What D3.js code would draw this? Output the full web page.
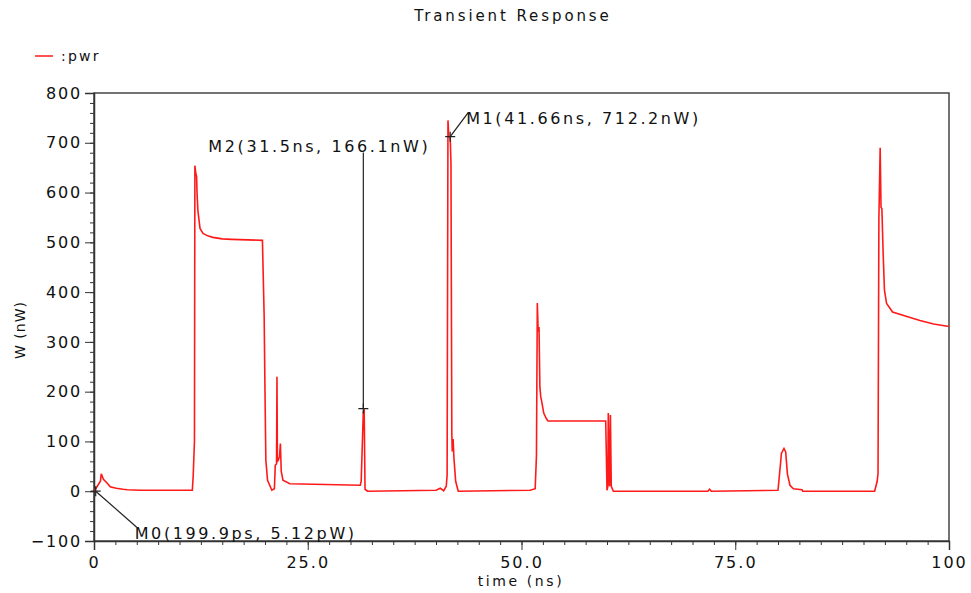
<!DOCTYPE html>
<html>
<head>
<meta charset="utf-8">
<script src="https://cdn.jsdelivr.net/npm/d3@7"></script>
<style>
  body { margin: 0; background: #fff; }
  text { font-family: "DejaVu Sans", sans-serif; fill: #111; }
</style>
</head>
<body>
<div id="chart"></div>
<script>
// time in ns, power in nW
const timeNs = [0, 0.2, 0.75, 0.85, 1.1, 1.5, 1.9, 2.6, 3.4, 3.9, 5.4, 11.5, 11.6, 11.75, 11.8, 11.9, 12.0, 12.05, 12.15, 12.4, 12.75, 13.3, 13.9, 15.0, 16.1, 19.7, 19.9, 20.0, 20.1, 20.3, 20.8, 21.1, 21.2, 21.35, 21.4, 21.45, 21.55, 21.7, 21.8, 21.9, 22.1, 22.9, 31.15, 31.25, 31.5, 31.6, 31.7, 32.0, 40.0, 40.5, 40.9, 41.2, 41.3, 41.4, 41.5, 41.66, 41.75, 41.85, 41.9, 42.0, 42.1, 42.3, 42.6, 51.0, 51.6, 51.75, 51.85, 51.95, 52.05, 52.15, 52.25, 52.4, 52.6, 52.9, 53.1, 59.85, 60.0, 60.1, 60.15, 60.3, 60.4, 60.5, 60.75, 71.8, 72.0, 72.2, 80.0, 80.15, 80.4, 80.7, 80.9, 81.1, 81.4, 81.8, 82.8, 82.9, 91.3, 91.6, 91.7, 91.8, 91.95, 92.05, 92.15, 92.3, 92.45, 92.7, 93.4, 94.7, 96.6, 98.2, 100];
const powerNw = [0, 5, 20, 35, 24, 17, 9, 6, 4, 3, 2, 2, 30, 100, 654, 640, 632, 600, 564, 528, 518, 513, 510, 507, 506, 504, 353, 200, 62, 22, 2, 5, 52, 55, 230, 60, 62, 70, 96, 40, 22, 15, 12, 20, 160, 162, 4, 0, 2, 6, 1, 10, 32, 745, 712, 712, 659, 116, 80, 105, 66, 20, 0, 2, 5, 72, 378, 320, 330, 209, 190, 177, 157, 146, 141, 141, 2, 10, 157, 10, 153, 10, 0, 0, 4, 0, 2, 29, 76, 86, 79, 35, 12, 5, 3, 0, 0, 20, 36, 548, 690, 570, 568, 477, 404, 377, 360, 353, 343, 336, 331];

const yTicks = [-100, 0, 100, 200, 300, 400, 500, 600, 700, 800];
const xTicks = [0, 25, 50, 75, 100];
const xTickLabels = ["0", "25.0", "50.0", "75.0", "100"];

// markers: name, x (ns), y (nW), label
const markerNames = ["M0", "M1", "M2"];
const markerX = [0.1999, 41.66, 31.5];
const markerY = [0.00512, 712.2, 166.1];
const markerLabels = ["M0(199.9ps, 5.12pW)", "M1(41.66ns, 712.2nW)", "M2(31.5ns, 166.1nW)"];

const width = 971, height = 593;
const margin = {top: 93, right: 22, bottom: 52, left: 94};
const innerW = width - margin.left - margin.right;
const innerH = height - margin.top - margin.bottom;

const svg = d3.select("#chart").append("svg")
  .attr("width", width)
  .attr("height", height);

const g = svg.append("g")
  .attr("transform", `translate(${margin.left},${margin.top})`);

const x = d3.scaleLinear().domain([0, 100]).range([0, innerW]);
const y = d3.scaleLinear().domain([-100, 800]).range([innerH, 0]);

// title
svg.append("text")
  .attr("x", 513).attr("y", 21)
  .attr("text-anchor", "middle")
  .style("font-size", "15px")
  .style("letter-spacing", "2.9px")
  .text("Transient Response");

// legend
svg.append("line")
  .attr("x1", 35).attr("x2", 53)
  .attr("y1", 56).attr("y2", 56)
  .attr("stroke", "#ff1a1a").attr("stroke-width", 1.5);
svg.append("text")
  .attr("x", 61).attr("y", 61)
  .style("font-size", "14px")
  .style("letter-spacing", "2.2px")
  .text(":pwr");

// frame
g.append("rect")
  .attr("width", innerW).attr("height", innerH)
  .attr("fill", "none")
  .attr("stroke", "#444").attr("stroke-width", 1.5);

// y axis
const yMinor = d3.range(-100, 801, 20);
g.append("g").attr("class", "y-minor")
  .call(d3.axisLeft(y).tickValues(yMinor).tickSize(4).tickFormat(""))
  .call(s => s.select(".domain").remove())
  .selectAll("line").attr("stroke", "#333");

const yAxis = g.append("g").attr("class", "y-axis")
  .call(d3.axisLeft(y).tickValues(yTicks).tickSize(9).tickPadding(3));
yAxis.select(".domain").attr("stroke", "#333").attr("stroke-width", 1.5);
yAxis.selectAll("line").attr("stroke", "#333");
yAxis.selectAll("text")
  .style("font-size", "16px")
  .style("letter-spacing", "1.8px")
  .style("font-family", "DejaVu Sans")
  .attr("fill", "#111")
  .text(d => d < 0 ? "\u2212" + Math.abs(d) : d);

// x axis
const xMinor = d3.range(0, 100.1, 2.5);
g.append("g").attr("class", "x-minor")
  .attr("transform", `translate(0,${innerH})`)
  .call(d3.axisBottom(x).tickValues(xMinor).tickSize(4).tickFormat(""))
  .call(s => s.select(".domain").remove())
  .selectAll("line").attr("stroke", "#333");

const xAxis = g.append("g").attr("class", "x-axis")
  .attr("transform", `translate(0,${innerH})`)
  .call(d3.axisBottom(x).tickValues(xTicks).tickSize(9).tickPadding(7)
    .tickFormat((d, i) => xTickLabels[i]));
xAxis.select(".domain").attr("stroke", "#333").attr("stroke-width", 1.5);
xAxis.selectAll("line").attr("stroke", "#333");
xAxis.selectAll("text")
  .style("font-size", "16px")
  .style("letter-spacing", "2px")
  .style("font-family", "DejaVu Sans")
  .attr("fill", "#111");

// axis titles
svg.append("text")
  .attr("x", 521).attr("y", 586)
  .attr("text-anchor", "middle")
  .style("font-size", "14px")
  .style("letter-spacing", "2.6px")
  .text("time (ns)");

svg.append("text")
  .attr("transform", "translate(25,330) rotate(-90)")
  .attr("text-anchor", "middle")
  .style("font-size", "14px")
  .style("letter-spacing", "1px")
  .text("W (nW)");

// trace
const series = timeNs.map((t, i) => ({t: t, p: powerNw[i]}));
const line = d3.line().x(d => x(d.t)).y(d => y(d.p));

g.append("path")
  .datum(series)
  .attr("fill", "none")
  .attr("stroke", "#ff1a1a")
  .attr("stroke-width", 1.6)
  .attr("stroke-linejoin", "miter")
  .attr("d", line);

// markers
const markers = markerNames.map((n, i) => ({name: n, t: markerX[i], p: markerY[i], label: markerLabels[i]}));
// label offsets relative to the marked point
const offsets = {
  M0: {lx: 41, ly: 36, tx: 39, ty: 48, anchor: "start"},
  M1: {lx: 18, ly: -24, tx: 16, ty: -13, anchor: "start"},
  M2: {lx: 0, ly: -256, tx: -44, ty: -257, anchor: "middle"}
};

markers.forEach(m => {
  const px = x(m.t), py = y(m.p);
  const o = offsets[m.name];
  g.append("line")
    .attr("x1", px).attr("y1", py)
    .attr("x2", px + o.lx).attr("y2", py + o.ly)
    .attr("stroke", "#222").attr("stroke-width", 1.2);
  g.append("path")
    .attr("d", `M${px - 5},${py}H${px + 5}M${px},${py - 5}V${py + 5}`)
    .attr("stroke", "#222").attr("stroke-width", 1.2);
  g.append("text")
    .attr("x", px + o.tx).attr("y", py + o.ty)
    .attr("text-anchor", o.anchor)
    .style("font-size", "16px")
    .style("letter-spacing", "2.6px")
    .text(m.label);
});
</script>
</body>
</html>
